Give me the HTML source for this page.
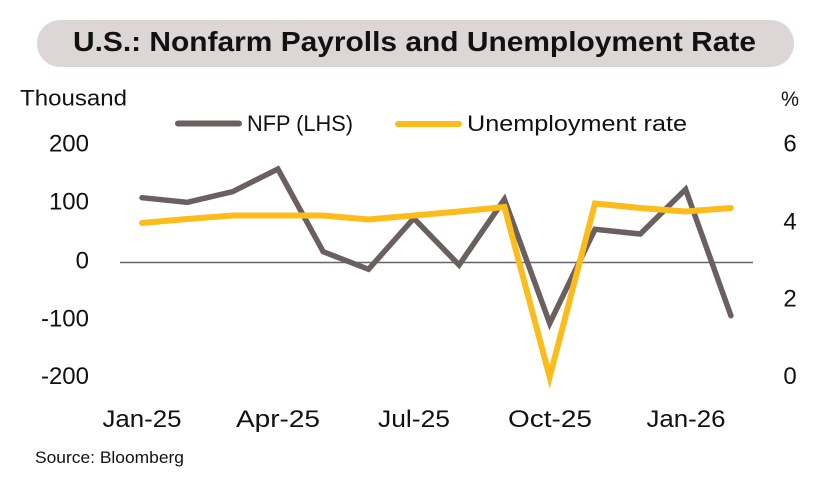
<!DOCTYPE html>
<html>
<head>
<meta charset="utf-8">
<style>
  html, body { margin:0; padding:0; background:#ffffff; }
  body { width:840px; height:480px; overflow:hidden; }
  svg { display:block; }
  text { font-family: "Liberation Sans", "DejaVu Sans", sans-serif; fill:#111; }
</style>
</head>
<body>
<svg width="840" height="480" viewBox="0 0 840 480" xmlns="http://www.w3.org/2000/svg">
  <rect x="0" y="0" width="840" height="480" fill="#ffffff"/>
  <!-- Title pill -->
  <rect x="37" y="20" width="757" height="47" rx="23.5" ry="23.5" fill="#ddd6d6"/>
  <text x="73" y="51" font-size="28" font-weight="bold" textLength="683" lengthAdjust="spacingAndGlyphs">U.S.: Nonfarm Payrolls and Unemployment Rate</text>

  <!-- Axis unit labels -->
  <text x="20" y="105.5" font-size="22" textLength="107" lengthAdjust="spacingAndGlyphs">Thousand</text>
  <text x="781" y="106" font-size="21" textLength="18" lengthAdjust="spacingAndGlyphs">%</text>

  <!-- Legend -->
  <line x1="178" y1="123.5" x2="239" y2="123.5" stroke="#6b6060" stroke-width="6" stroke-linecap="round"/>
  <text x="247" y="131" font-size="22" textLength="106" lengthAdjust="spacingAndGlyphs">NFP (LHS)</text>
  <line x1="398" y1="124" x2="459" y2="124" stroke="#fbbc1c" stroke-width="6" stroke-linecap="round"/>
  <text x="467" y="131" font-size="22" textLength="220" lengthAdjust="spacingAndGlyphs">Unemployment rate</text>

  <!-- Left axis labels -->
  <g font-size="24" text-anchor="end">
    <text x="89" y="151.5">200</text>
    <text x="89" y="209.5">100</text>
    <text x="89" y="268.5">0</text>
    <text x="89" y="326.5">-100</text>
    <text x="89" y="384">-200</text>
  </g>
  <!-- Right axis labels -->
  <g font-size="24" text-anchor="middle">
    <text x="790" y="151.5">6</text>
    <text x="790" y="229.5">4</text>
    <text x="790" y="306.5">2</text>
    <text x="790" y="384">0</text>
  </g>

  <!-- Zero line -->
  <line x1="120" y1="262.5" x2="753" y2="262.5" stroke="#666" stroke-width="1.5"/>

  <!-- NFP series -->
  <polyline fill="none" stroke="#6b6060" stroke-width="5.5" stroke-linejoin="miter" stroke-miterlimit="10" stroke-linecap="round"
    points="142,197.7 187.3,202.3 232.6,191.7 277.9,169 323.2,251.7 368.5,269.3 413.8,218.3 459.1,265 504.4,199.3 549.7,323.3 595,229.3 640.3,234 685.6,189.3 730.9,315.7"/>

  <!-- Unemployment series -->
  <polyline fill="none" stroke="#fbbc1c" stroke-width="6" stroke-linejoin="miter" stroke-miterlimit="10" stroke-linecap="round"
    points="142,223 187.3,219 232.6,215.5 277.9,215.5 323.2,215.5 368.5,219.5 413.8,215.5 459.1,211.5 504.4,207 549.7,377 595,203.5 640.3,208 685.6,211.5 730.9,208"/>

  <!-- X axis labels -->
  <g font-size="24" text-anchor="middle">
    <text x="142" y="427" textLength="79" lengthAdjust="spacingAndGlyphs">Jan-25</text>
    <text x="278" y="427" textLength="84" lengthAdjust="spacingAndGlyphs">Apr-25</text>
    <text x="414" y="427" textLength="72" lengthAdjust="spacingAndGlyphs">Jul-25</text>
    <text x="550" y="427" textLength="84" lengthAdjust="spacingAndGlyphs">Oct-25</text>
    <text x="686" y="427" textLength="79" lengthAdjust="spacingAndGlyphs">Jan-26</text>
  </g>

  <!-- Source -->
  <text x="35" y="463" font-size="17" textLength="149" lengthAdjust="spacingAndGlyphs">Source: Bloomberg</text>
</svg>
</body>
</html>
